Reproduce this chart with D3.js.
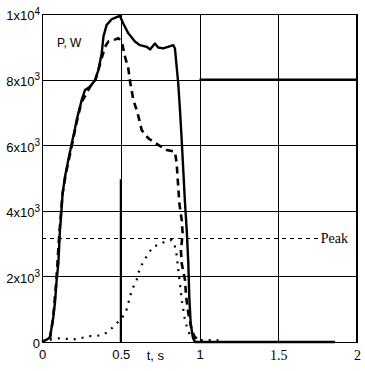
<!DOCTYPE html>
<html>
<head>
<meta charset="utf-8">
<script src="https://cdn.jsdelivr.net/npm/d3@7"></script>
<style>
  body { margin: 0; background: #fff; }
  svg { display: block; }
  .tick text { font-family: "Liberation Sans", Arial, sans-serif; font-size: 13px; fill: #000; }
</style>
</head>
<body>
<script>
// chart values
var solidT = [0, 0.02, 0.04, 0.051, 0.062, 0.072, 0.083, 0.093, 0.104, 0.114, 0.121, 0.131, 0.146, 0.167, 0.189, 0.21, 0.22, 0.252, 0.273, 0.305, 0.337, 0.358, 0.379, 0.39, 0.41, 0.442, 0.47, 0.495, 0.516, 0.548, 0.59, 0.622, 0.665, 0.686, 0.717, 0.738, 0.77, 0.834, 0.844, 0.855, 0.865, 0.876, 0.887, 0.897, 0.908, 0.919, 0.929, 0.935, 0.944, 0.957, 0.97, 1.0, 1.86];
var solidP = [0, 50, 100, 160, 470, 770, 1230, 1890, 2400, 3410, 3820, 4530, 5040, 5550, 6060, 6520, 6770, 7380, 7680, 7780, 7990, 8290, 8800, 9310, 9660, 9840, 9900, 9940, 9710, 9410, 9160, 9050, 9000, 8920, 9100, 8980, 8950, 9050, 8950, 8390, 7890, 7070, 6160, 5240, 4230, 3410, 2400, 1380, 570, 160, 0, 0, 0];

var dashT = [0.05, 0.07, 0.09, 0.11, 0.13, 0.15, 0.19, 0.22, 0.25, 0.283, 0.305, 0.34, 0.37, 0.4, 0.421, 0.45, 0.485, 0.506, 0.527, 0.548, 0.559, 0.58, 0.601, 0.618, 0.633, 0.675, 0.738, 0.792, 0.844, 0.855, 0.865, 0.872, 0.887, 0.893, 0.882, 0.887, 0.908, 0.915, 0.929, 0.95, 0.97, 1.0];
var dashP = [100, 700, 1800, 3300, 4500, 5100, 6000, 6700, 7300, 7580, 7780, 8000, 8500, 9000, 9160, 9200, 9260, 9160, 8700, 8340, 7940, 7380, 7070, 6770, 6460, 6210, 6010, 5850, 5800, 5450, 4730, 4230, 3720, 3310, 2800, 2400, 1890, 1380, 875, 370, 150, 50];

var dotT = [0, 0.104, 0.22, 0.294, 0.337, 0.379, 0.421, 0.463, 0.506, 0.533, 0.548, 0.559, 0.576, 0.601, 0.612, 0.633, 0.675, 0.707, 0.738, 0.781, 0.823, 0.84, 0.855, 0.87, 0.89, 0.91, 0.94, 0.97, 1.05, 1.12];
var dotP = [30, 110, 80, 180, 180, 210, 310, 520, 720, 920, 1180, 1400, 1640, 1890, 2110, 2350, 2700, 2910, 2960, 3060, 3110, 3000, 2650, 2000, 1200, 600, 200, 60, 60, 60];

var peakP = 3160;
var markerT = 0.5, markerP = 4960;   // vertical line at t = 0.5
var levelT = [1.0, 2.0], levelP = 8000; // thick line at 8x10^3

var xTicks = [0, 0.5, 1, 1.5, 2];
var xTickLabels = ["0", "0.5", "1", "1.5", "2"];
var yTicks = [0, 2000, 4000, 6000, 8000, 10000];
var yTickLabels = [["0", ""], ["2x10", "3"], ["4x10", "3"], ["6x10", "3"], ["8x10", "3"], ["1x10", "4"]];

var width = 365, height = 371;
var margin = {top: 14, right: 8, bottom: 29, left: 42};
var w = width - margin.left - margin.right,
    h = height - margin.top - margin.bottom;

var svg = d3.select("body").append("svg")
    .attr("width", width)
    .attr("height", height);

var g = svg.append("g")
    .attr("transform", "translate(" + margin.left + "," + margin.top + ")");

var x = d3.scaleLinear().domain([0, 2]).range([0, w]);
var y = d3.scaleLinear().domain([0, 10000]).range([h, 0]);

// grid + y labels
var yAxis = g.append("g")
    .call(d3.axisLeft(y).tickValues(yTicks).tickSize(-w).tickFormat(""));
yAxis.select(".domain").remove();
yAxis.selectAll(".tick line").attr("stroke", "#000").attr("shape-rendering", "crispEdges");
yAxis.selectAll(".tick text")
    .attr("x", -2).attr("dy", "0.45em")
    .each(function(d, i) {
        var t = d3.select(this);
        t.append("tspan").text(yTickLabels[i][0]);
        t.append("tspan").attr("font-size", 10).attr("dy", "-0.55em").text(yTickLabels[i][1]);
    });

var xAxis = g.append("g")
    .attr("transform", "translate(0," + h + ")")
    .call(d3.axisBottom(x).tickValues(xTicks).tickSize(-h)
        .tickFormat(function(d, i) { return xTickLabels[i]; }));
xAxis.select(".domain").remove();
xAxis.selectAll(".tick line").attr("stroke", "#000").attr("shape-rendering", "crispEdges");
xAxis.selectAll(".tick text").attr("y", 8);
xAxis.selectAll(".tick text").filter(function(d) { return d >= 1.5; })
    .style("font-family", "'Liberation Serif', serif").style("font-size", "14px");

g.append("text")
    .attr("x", x(0.72)).attr("y", h + 18)
    .attr("text-anchor", "middle")
    .style("font-family", "'Liberation Sans', Arial, sans-serif").style("font-size", "13px")
    .text("t, s");

// frame
g.append("rect").attr("width", w).attr("height", h)
    .attr("fill", "none").attr("stroke", "#000").attr("shape-rendering", "crispEdges");
g.append("line")
    .attr("x1", w).attr("x2", w).attr("y1", 0).attr("y2", h)
    .attr("stroke", "#000").attr("stroke-width", 2);

// Peak line
g.append("line")
    .attr("x1", 0).attr("x2", x(1.76))
    .attr("y1", y(peakP)).attr("y2", y(peakP))
    .attr("stroke", "#000").attr("stroke-dasharray", "4,4")
    .attr("shape-rendering", "crispEdges");
g.append("text")
    .attr("x", x(1.77)).attr("y", y(peakP) + 5)
    .style("font-family", "'Liberation Serif', 'Times New Roman', serif").style("font-size", "14px")
    .text("Peak");

g.append("text")
    .attr("x", x(0.095)).attr("y", 33)
    .style("font-family", "'Liberation Sans', Arial, sans-serif").style("font-size", "12px")
    .text("P, W");

// marks
var line = d3.line().x(function(d) { return x(d[0]); }).y(function(d) { return y(d[1]); });

g.append("path")
    .datum(d3.zip(dotT, dotP))
    .attr("d", line)
    .attr("fill", "none").attr("stroke", "#000").attr("stroke-width", 2.2)
    .attr("stroke-dasharray", "2,6");

g.append("path")
    .datum(d3.zip(dashT, dashP))
    .attr("d", line)
    .attr("fill", "none").attr("stroke", "#000").attr("stroke-width", 2.6)
    .attr("stroke-dasharray", "7,5");

g.append("path")
    .datum(d3.zip(solidT, solidP))
    .attr("d", line)
    .attr("fill", "none").attr("stroke", "#000").attr("stroke-width", 2.4)
    .attr("stroke-linejoin", "round");

g.append("line")
    .attr("x1", x(markerT)).attr("x2", x(markerT))
    .attr("y1", y(0)).attr("y2", y(markerP))
    .attr("stroke", "#000").attr("stroke-width", 2);

g.append("line")
    .attr("x1", x(levelT[0])).attr("x2", x(levelT[1]))
    .attr("y1", y(levelP)).attr("y2", y(levelP))
    .attr("stroke", "#000").attr("stroke-width", 2);
</script>
</body>
</html>
